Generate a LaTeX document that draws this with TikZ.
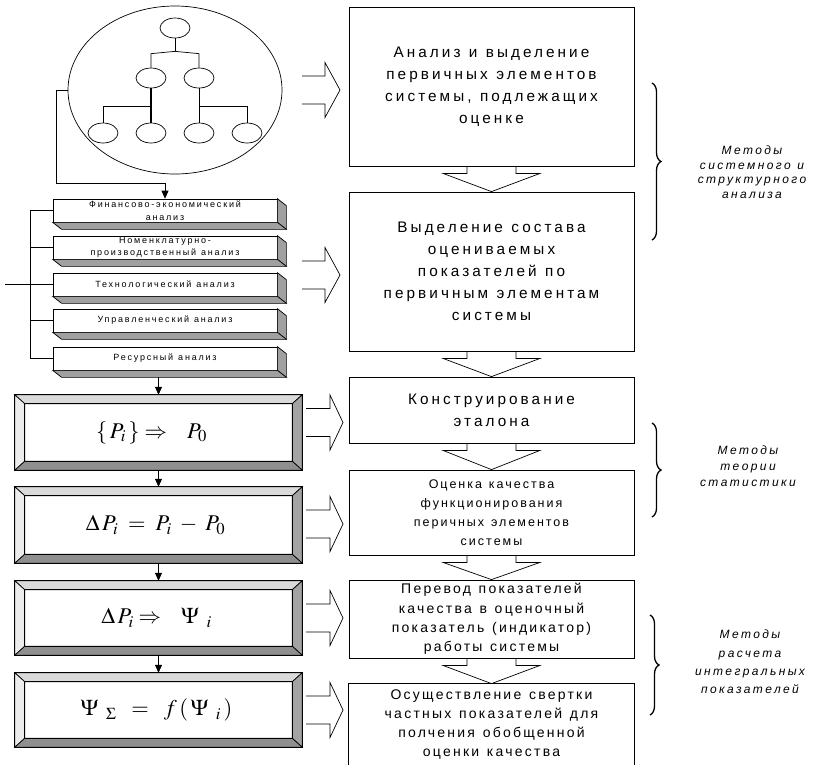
\documentclass[tikz,border=0pt]{standalone}
\usepackage{mathptmx}
\usepackage{fontspec}
\setmainfont{Liberation Sans}
\newfontfamily\spf[LetterSpace=20]{Liberation Sans}
\newfontfamily\spg[LetterSpace=16]{Liberation Sans}
\usetikzlibrary{calc,arrows.meta,decorations.pathreplacing,shapes.geometric}
\definecolor{bvtop}{HTML}{DADADA}
\definecolor{bvleft}{HTML}{ECECEC}
\definecolor{bvright}{HTML}{A3A3A3}
\definecolor{bvbot}{HTML}{8F8F8F}
\definecolor{exgray}{HTML}{A0A0A0}
\newcommand\ws{\kern0.55em\relax}
\newcommand\harr[4]{\draw[thinl] (#1,#4-14) -- (#2,#4-14) -- (#2,#4-27.5) -- (#3,#4) -- (#2,#4+27.5) -- (#2,#4+14) -- (#1,#4+14);}
\newcommand\varr[2]{\draw[thinl] ($(#1.south)+(-24.5,0)$) -- ++(0,7) -- ++(-24,0) -- (#2.north) -- ($(#1.south)+(48.5,7)$) -- ++(-24,0) -- ++(0,-7);}
\newcommand\extr[1]{%
  \filldraw[thinl,fill=exgray] (#1.north east) -- ++(9,7) -- ($(#1.south east)+(9,7)$) -- (#1.south east) -- cycle;
  \filldraw[thinl,fill=exgray] (#1.south west) -- ($(#1.south west)+(9,7)$) -- ($(#1.south east)+(9,7)$) -- (#1.south east) -- cycle;}
\newcommand\bevel[1]{%
  \filldraw[thinl,fill=bvtop] (#1.north west) -- (#1.north east) -- ($(#1.north east)+(-10,9)$) -- ($(#1.north west)+(10,9)$) -- cycle;
  \filldraw[thinl,fill=bvleft] (#1.north west) -- ($(#1.north west)+(10,9)$) -- ($(#1.south west)+(10,-9)$) -- (#1.south west) -- cycle;
  \filldraw[thinl,fill=bvright] (#1.north east) -- ($(#1.north east)+(-10,9)$) -- ($(#1.south east)+(-10,-9)$) -- (#1.south east) -- cycle;
  \filldraw[thinl,fill=bvbot] (#1.south west) -- ($(#1.south west)+(10,-9)$) -- ($(#1.south east)+(-10,-9)$) -- (#1.south east) -- cycle;
  \draw[line width=0.9pt] (#1.north west) rectangle (#1.south east);
  \draw[line width=0.9pt] ($(#1.north west)+(10,9)$) rectangle ($(#1.south east)+(-10,-9)$);}
\begin{document}
\begin{tikzpicture}[x=1pt,y=-1pt,
  thinl/.style={line width=0.7pt},
  rbox/.style={draw, line width=0.8pt, minimum width=285, inner sep=0, align=center, text width=284},
  rfont/.style={font=\spf\fontsize{15.3}{22}\selectfont},
  sfont/.style={font=\spg\fontsize{14}{19.3}\selectfont},
  tfont/.style={font=\spg\fontsize{12.5}{19}\selectfont},
  lbox/.style={draw, fill=white, line width=0.7pt, minimum width=224, minimum height=23, inner sep=0, align=center, text width=222, font=\spf\fontsize{9}{12.5}\selectfont},
  fmbox/.style={minimum width=287, inner sep=0},
  ftext/.style={inner sep=0, font=\fontsize{22.5}{26}\selectfont},
  elli/.style={draw, ellipse, line width=0.7pt, minimum width=30, minimum height=20, inner sep=0},
  arr/.style={thinl,-{Triangle[width=7pt,length=8pt]}},
  brc/.style={decorate, decoration={brace, amplitude=9pt}, line width=1.3pt},
  mfont/.style={align=center, font=\spf\itshape\fontsize{12}{#1}\selectfont}
]
\useasboundingbox (0,0) rectangle (827,764);

% big ellipse with tree
\node[draw, ellipse, line width=0.7pt, minimum width=214, minimum height=168, inner sep=0] (big) at (175,90) {};
\node[elli] (e0) at (175,28) {};
\node[elli] (e1) at (151,78) {};
\node[elli] (e2) at (199,78) {};
\node[elli] (e3) at (103,133) {};
\node[elli] (e4) at (151,133) {};
\node[elli] (e5) at (199,133) {};
\node[elli] (e6) at (247,133) {};
\draw[thinl] (e0.south) -- ++(0,13) coordinate (j0);
\draw[thinl] (e1.north) -- ++(0,-14) -- (j0) -- ($(e2.north)+(0,-14)$) -- (e2.north);
\draw[thinl] (e3.north) |- ($(e1.south)+(0,18)$);
\draw[line width=1.3pt] (e1.south) -- (e4.north);
\draw[thinl] (e6.north) |- ($(e2.south)+(0,18)$);
\draw[thinl] (e2.south) -- (e5.north);

% right boxes
\node[rbox, rfont, minimum height=159] (b1) at (491.5,86.5) {Анализ\ws и\ws выделение\\первичных\ws элементов\\системы,\ws подлежащих\\оценке};
\node[rbox, rfont, minimum height=159] (b2) at (491.5,271.5) {Выделение\ws состава\\оцениваемых\\показателей\ws по\\первичным\ws элементам\\системы};
\node[rbox, rfont, minimum height=66] (b3) at (491.5,410) {Конструирование\\эталона};
\node[rbox, tfont, minimum height=85] (b4) at (491.5,512.5) {Оценка\ws качества\\функционирования\\перичных\ws элементов\\системы};
\node[rbox, sfont, minimum height=78] (b5) at (491.5,619) {Перевод\ws показателей\\качества\ws в\ws оценочный\\показатель\ws (индикатор)\\работы\ws системы};
\node[rbox, sfont, draw=none, minimum height=81] (b6) at (491.5,724.5) {Осуществление\ws свертки\\частных\ws показателей\ws для\\полчения\ws обобщенной\\оценки\ws качества};
\draw[line width=0.8pt] (b6.south west) -- (b6.north west) -- (b6.north east) -- (b6.south east);
\varr{b1}{b2}
\varr{b2}{b3}
\varr{b3}{b4}
\varr{b4}{b5}
\varr{b5}{b6}

% hollow arrows
\harr{302}{325}{340}{90}
\harr{302}{325}{340}{275}
\harr{306}{330}{343}{422.5}
\harr{306}{330}{343}{524}
\harr{306}{330}{343}{618}
\harr{306}{330}{343}{710}

% list boxes
\node[lbox] (l1) at (165,210.5) {Финансово-экономический\\анализ};
\node[lbox] (l2) at (165,247.5) {Номенклатурно-\\производственный\ws анализ};
\node[lbox] (l3) at (165,284.5) {Технологический\ws анализ};
\node[lbox] (l4) at (165,320.5) {Управленческий\ws анализ};
\node[lbox] (l5) at (165,358.5) {Ресурсный\ws анализ};
\extr{l1}\extr{l2}\extr{l3}\extr{l4}\extr{l5}
\coordinate (bx) at (30,0);
\coordinate (lin) at (5,284.5);
\draw[thinl] (l1.west) -- (l1.west -| bx) -- (l5.west -| bx) -- (l5.west);
\draw[thinl] (l2.west) -- (l2.west -| bx);
\draw[thinl] (l3.west) -- (l3.west -| bx);
\draw[thinl] (l4.west) -- (l4.west -| bx);
\draw[thinl] (lin) -- (l3.west -| bx);

% feedback
\coordinate (fb) at (56,183);
\draw[arr] (big.west) -| (fb) -| (l1.north);

% formula boxes
\node[fmbox, minimum height=75] (f1) at (158.5,432.5) {};
\node[fmbox, minimum height=76] (f2) at (158.5,525) {};
\node[fmbox, minimum height=74] (f3) at (158.5,618) {};
\node[fmbox, minimum height=74] (f4) at (158.5,710) {};
\bevel{f1}\bevel{f2}\bevel{f3}\bevel{f4}
\node[ftext] (t1) at ($(f1.center)+(-7,0)$) {$\{\,P_{i}\,\}\Rightarrow\;\;\;P_{0}$};
\node[ftext] (t2) at ($(f2.center)+(-3,0)$) {$\Delta\,P_{i}\;=\;P_{i}\;-\;P_{0}$};
\node[ftext] (t3) at ($(f3.center)+(-2,0)$) {$\Delta\,P_{i}\Rightarrow\;\;\;\Psi\;\,{}_{i}$};
\node[ftext] (t4) at ($(f4.center)+(-2,0)$) {$\Psi\;\,{}_{\Sigma}\;\;=\;\;f\,(\,\Psi\;\,{}_{i}\,)$};
\coordinate (l5b) at ($(l5.south)+(0,7)$);
\draw[arr] (l5b -| f1.north) -- (f1.north);
\draw[arr] (f1.south) -- (f2.north);
\draw[arr] (f2.south) -- (f3.north);
\draw[arr] (f3.south) -- (f4.north);

% braces
\draw[brc] (652,83) -- (652,240);
\node[mfont=14.5] (m1) at (752,172) {Методы\\системного\ws и\\структурного\\анализа};
\draw[brc] (652,423) -- (652,517);
\node[mfont=16] (m2) at (748,466) {Методы\\теории\\статистики};
\draw[brc] (650,615) -- (650,715);
\node[mfont=18.3] (m3) at (750,662) {Методы\\расчета\\интегральных\\показателей};
\end{tikzpicture}
\end{document}
